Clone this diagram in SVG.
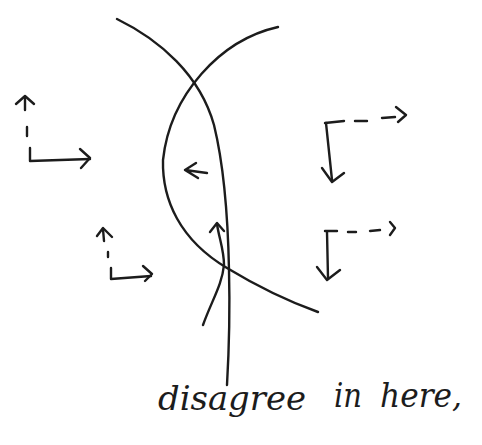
<svg xmlns="http://www.w3.org/2000/svg" width="482" height="445" viewBox="0 0 482 445">
<style>
.s{fill:none;stroke:#1c1c1c;stroke-width:2.4;stroke-linecap:round;stroke-linejoin:round}
.t{font-family:"DejaVu Serif","Liberation Serif",serif;font-style:italic;fill:#1c1c1c}
</style>
<rect width="482" height="445" fill="#ffffff"/>
<g id="curves">
<path class="s" d="M117,19 C160,40 200,75 214,125 C225,170 228,220 229,270 C230,310 229,350 227,385"/>
<path class="s" d="M278,27 C220,40 170,95 163,160 C162,200 180,240 227,268 C260,288 290,302 318,312"/>
<path class="s" d="M203,325 C212,300 222,285 224,265 C224,250 219,238 217,224"/>
<path class="s" d="M210,232 L217,223 L224,231"/>
<path class="s" d="M185,170 L207,173 M196,163 L185,170 L198,178"/>
</g>
<g id="axes-left-top">
<path class="s" d="M25,98 L25,110 M27,127 L27,136 M30,148 L30,161 L90,159"/>
<path class="s" d="M16,104 L25,96 L34,104"/>
<path class="s" d="M80,149 L90,158 L81,168"/>
</g>
<g id="axes-left-bottom">
<path class="s" d="M103,229 L104,241 M108,252 L108,257 M111,268 L111,279 L151,276"/>
<path class="s" d="M97,236 L103,228 L112,237"/>
<path class="s" d="M143,266 L152,274 L145,281"/>
</g>
<g id="axes-right-top">
<path class="s" d="M325,123 L344,121 M355,121 L367,121 M382,118 L395,117"/>
<path class="s" d="M396,107 L406,115 L398,122"/>
<path class="s" d="M326,123 L332,180"/>
<path class="s" d="M322,168 L332,182 L344,173"/>
</g>
<g id="axes-right-bottom">
<path class="s" d="M325,231 L337,231 M348,232 L356,232 M370,231 L380,230"/>
<path class="s" d="M390,222 L395,228 L390,235"/>
<path class="s" d="M327,232 L328,278"/>
<path class="s" d="M317,267 L327,280 L340,270"/>
</g>
<g id="label">
<text class="t" x="158" y="410" font-size="34" textLength="148" lengthAdjust="spacingAndGlyphs">disagree</text>
<text class="t" x="334" y="407" font-size="34" textLength="28" lengthAdjust="spacingAndGlyphs">in</text>
<text class="t" x="380" y="407" font-size="34" textLength="82" lengthAdjust="spacingAndGlyphs">here,</text>
</g>
</svg>
